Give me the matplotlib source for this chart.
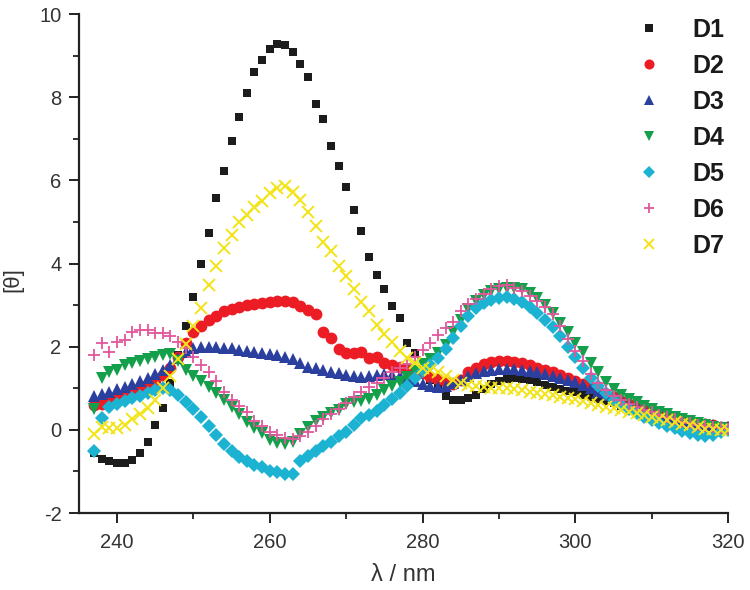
import matplotlib
matplotlib.use("Agg")
import matplotlib.pyplot as plt
from matplotlib.ticker import MultipleLocator

plt.rcParams['font.family'] = ['Liberation Sans', 'DejaVu Sans']
plt.rcParams['axes.unicode_minus'] = False

wavelength = list(range(237, 321))

D1 = [-0.55, -0.7, -0.76, -0.8, -0.8, -0.72, -0.55, -0.3, 0.12, 0.52,
      1.12, 1.8, 2.5, 3.2, 4.0, 4.73, 5.58, 6.23, 6.95, 7.53,
      8.11, 8.61, 8.9, 9.17, 9.28, 9.25, 9.09, 8.81, 8.49, 7.85,
      7.48, 6.83, 6.35, 5.85, 5.3, 4.78, 4.17, 3.73, 3.38, 2.99,
      2.7, 2.1, 1.85, 1.5, 1.2, 1.0, 0.82, 0.73, 0.72, 0.76,
      0.85, 0.98, 1.1, 1.18, 1.22, 1.24, 1.22, 1.2, 1.15, 1.08,
      1.03, 0.98, 0.94, 0.9, 0.85, 0.8, 0.75, 0.7, 0.64, 0.58,
      0.52, 0.46, 0.41, 0.36, 0.31, 0.27, 0.23, 0.19, 0.16, 0.13,
      0.1, 0.08, 0.06, 0.05]

D2 = [0.6, 0.62, 0.7, 0.75, 0.8, 0.9, 1.0, 1.1, 1.2, 1.32,
      1.48, 1.75, 2.08, 2.35, 2.5, 2.65, 2.75, 2.85, 2.9, 2.95,
      3.0, 3.03, 3.06, 3.08, 3.1, 3.1, 3.08, 2.98, 2.88, 2.78,
      2.35, 2.2, 1.95, 1.86, 1.85, 1.88, 1.72, 1.76, 1.62, 1.56,
      1.52, 1.45, 1.4, 1.36, 1.28, 1.22, 1.15, 1.1, 1.2, 1.38,
      1.5, 1.58, 1.63, 1.66, 1.66, 1.64, 1.6, 1.55, 1.5, 1.45,
      1.38, 1.32, 1.25, 1.18, 1.1, 1.02, 0.94, 0.86, 0.78, 0.7,
      0.63, 0.56, 0.5, 0.44, 0.39, 0.34, 0.29, 0.25, 0.21, 0.17,
      0.14, 0.11, 0.08, 0.06]

D3 = [0.82, 0.86, 0.92, 0.98, 1.04, 1.1, 1.17, 1.25, 1.35, 1.45,
      1.55, 1.72, 1.88, 1.98, 2.0, 2.0, 2.0, 1.98, 1.96, 1.93,
      1.9, 1.88, 1.85, 1.82, 1.8, 1.76, 1.7, 1.6, 1.52, 1.48,
      1.44, 1.4, 1.36, 1.33, 1.3, 1.28, 1.3, 1.32, 1.34, 1.33,
      1.3, 1.25, 1.18, 1.1, 1.05, 1.02, 1.05, 1.12, 1.2, 1.3,
      1.36, 1.41, 1.44, 1.46, 1.47, 1.46, 1.44, 1.41, 1.38, 1.34,
      1.3, 1.25, 1.2, 1.14, 1.07, 1.0, 0.92, 0.84, 0.76, 0.69,
      0.62, 0.56, 0.5, 0.44, 0.39, 0.34, 0.29, 0.25, 0.21, 0.17,
      0.14, 0.11, 0.08, 0.06]

D4 = [0.5, 1.25, 1.38, 1.45, 1.55, 1.6, 1.65, 1.7, 1.75, 1.8,
      1.82, 1.65, 1.45, 1.3, 1.18, 1.02, 0.88, 0.72, 0.55, 0.38,
      0.2, 0.05, -0.08, -0.25, -0.32, -0.35, -0.3, -0.1, 0.08, 0.22,
      0.32, 0.4, 0.48, 0.62, 0.68, 0.7, 0.75, 0.85, 0.95, 1.05,
      1.15, 1.28, 1.42, 1.58, 1.7, 1.85, 2.05, 2.35, 2.65, 2.9,
      3.1, 3.25, 3.35, 3.4, 3.42, 3.42, 3.38, 3.3, 3.18, 3.0,
      2.8, 2.58, 2.35, 2.1, 1.88, 1.62, 1.38, 1.15, 0.98, 0.85,
      0.75, 0.66, 0.58, 0.5, 0.43, 0.37, 0.31, 0.26, 0.21, 0.16,
      0.12, 0.08, 0.05, 0.03]

D5 = [-0.5, 0.28, 0.55, 0.62, 0.7, 0.76, 0.82, 0.88, 0.95, 1.0,
      0.95, 0.85, 0.68, 0.5, 0.3, 0.1, -0.12, -0.35, -0.52, -0.65,
      -0.75, -0.84, -0.9, -0.98, -1.02, -1.05, -1.05, -0.75, -0.62, -0.52,
      -0.4, -0.3, -0.15, -0.05, 0.12, 0.28, 0.35, 0.45, 0.6, 0.75,
      0.88, 1.05, 1.25, 1.42, 1.55, 1.72, 1.95, 2.2, 2.5, 2.75,
      2.92, 3.05, 3.12, 3.18, 3.2, 3.16, 3.08, 2.95, 2.8, 2.65,
      2.48, 2.25, 2.0, 1.75, 1.5, 1.25, 1.05, 0.88, 0.72, 0.6,
      0.5, 0.4, 0.32, 0.24, 0.17, 0.1, 0.04, -0.02, -0.08, -0.12,
      -0.15, -0.12, -0.06, 0.0]

D6 = [1.8, 2.1, 1.88, 2.12, 2.15, 2.36, 2.4, 2.4, 2.34, 2.32,
      2.25, 2.12, 1.98, 1.75, 1.55, 1.38, 1.18, 0.92, 0.72, 0.58,
      0.42, 0.22, 0.1, -0.05, -0.12, -0.2, -0.22, -0.15, -0.05, 0.1,
      0.25, 0.38, 0.5, 0.65, 0.78, 0.9, 1.02, 1.12, 1.25, 1.38,
      1.48, 1.58, 1.75, 1.92, 2.08, 2.28, 2.45, 2.6, 2.85, 3.02,
      3.15, 3.28, 3.38, 3.45, 3.48, 3.42, 3.35, 3.22, 3.1, 2.95,
      2.78, 2.5, 2.18, 1.9, 1.65, 1.35, 1.12, 0.95, 0.82, 0.72,
      0.63, 0.55, 0.48, 0.42, 0.36, 0.3, 0.25, 0.2, 0.16, 0.12,
      0.09, 0.06, 0.04, 0.02]

D7 = [-0.1, 0.06, 0.04, 0.05, 0.12, 0.25, 0.38, 0.52, 0.72, 1.0,
      1.3, 1.7, 2.06, 2.5, 2.93, 3.49, 3.93, 4.37, 4.69, 5.0,
      5.18, 5.36, 5.5, 5.69, 5.82, 5.86, 5.72, 5.52, 5.23, 4.9,
      4.53, 4.3, 3.93, 3.7, 3.4, 3.08, 2.85, 2.52, 2.3, 2.12,
      1.9, 1.74, 1.6, 1.5, 1.45, 1.38, 1.3, 1.2, 1.12, 1.08,
      1.05, 1.02, 1.0, 1.0, 1.0, 0.98, 0.95, 0.92, 0.89, 0.86,
      0.83, 0.8, 0.77, 0.74, 0.7, 0.65, 0.6, 0.56, 0.52, 0.48,
      0.44, 0.4, 0.36, 0.31, 0.27, 0.23, 0.19, 0.15, 0.11, 0.07,
      0.03, 0.01, 0.0, 0.0]

series_labels = ['D1', 'D2', 'D3', 'D4', 'D5', 'D6', 'D7']
series_values = [D1, D2, D3, D4, D5, D6, D7]
x_ticks = [240, 260, 280, 300, 320]
y_ticks = [-2, 0, 2, 4, 6, 8, 10]

styles = [
    dict(marker='s', color='#1c1c1c', ms=6.2, mew=0),
    dict(marker='o', color='#ec1c24', ms=8.5, mew=0),
    dict(marker='^', color='#2b3f9e', ms=9.0, mew=0),
    dict(marker='v', color='#14a04a', ms=9.0, mew=0),
    dict(marker='D', color='#1cb2d2', ms=7.2, mew=0),
    dict(marker='+', color='#e3569c', ms=9.0, mew=1.3),
    dict(marker='x', color='#f2e418', ms=8.0, mew=1.4),
]

fig = plt.figure(figsize=(7.5, 5.9), dpi=100)
ax = fig.add_axes([0.105, 0.1305, 0.866, 0.8455])

for lab, vals, st in zip(series_labels, series_values, styles):
    ax.plot(wavelength, vals, linestyle='none', marker=st['marker'],
            color=st['color'], markersize=st['ms'], markeredgewidth=st['mew'],
            label=lab)

ax.set_xlim(235, 320)
ax.set_ylim(-2, 10)
ax.set_xticks(x_ticks)
ax.set_yticks(y_ticks)
ax.xaxis.set_minor_locator(MultipleLocator(10))
ax.yaxis.set_minor_locator(MultipleLocator(1))

for s in ['top', 'right']:
    ax.spines[s].set_visible(False)
for s in ['left', 'bottom']:
    ax.spines[s].set_linewidth(1.6)
    ax.spines[s].set_color('#222222')

ax.tick_params(which='major', direction='out', length=7.5, width=1.4,
               colors='#222222', labelsize=14.5, labelcolor='#333333', pad=5)
ax.tick_params(which='minor', direction='out', length=4.5, width=1.3,
               colors='#222222')
ax.tick_params(axis='x', which='major', pad=7)

ax.set_xlabel('λ / nm', fontsize=17, color='#333333')
ax.xaxis.set_label_coords(0.5, -0.102)
ax.set_ylabel('[θ]', fontsize=16, color='#333333')
ax.yaxis.set_label_coords(-0.085, 0.467)

leg = ax.legend(loc='upper right', bbox_to_anchor=(1.028, 1.038), frameon=False,
                prop={'weight': 'bold', 'size': 18}, handlelength=1.0,
                handletextpad=1.2, labelspacing=0.48, markerscale=0.85)
for t in leg.get_texts():
    t.set_color('#1a1a1a')

fig.savefig('out.png', dpi=100)
